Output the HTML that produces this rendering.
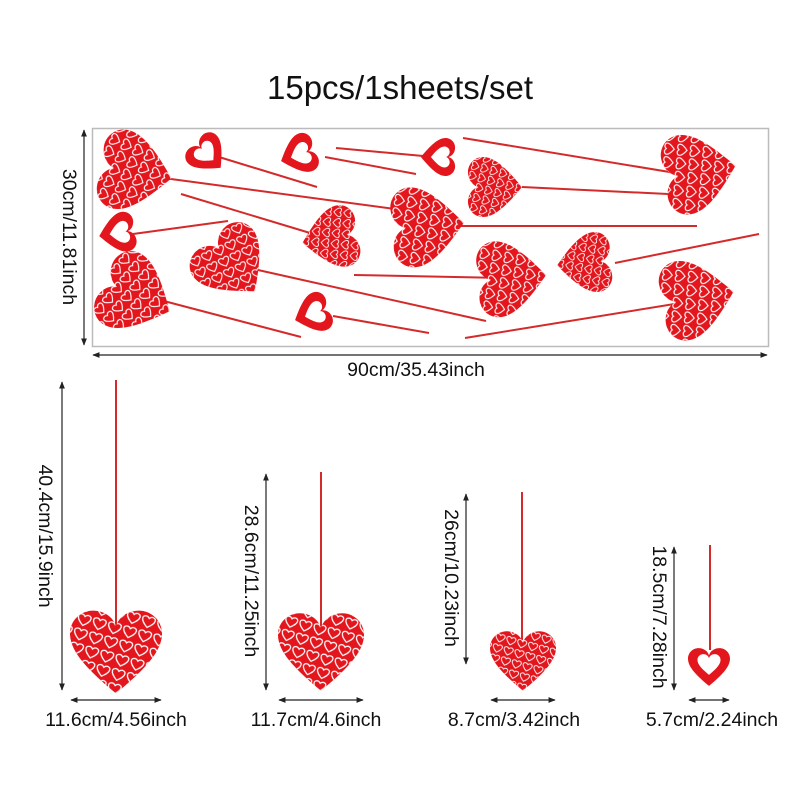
<!DOCTYPE html>
<html><head><meta charset="utf-8"><style>
html,body{margin:0;padding:0;background:#fff;}
svg{display:block;font-family:"Liberation Sans",sans-serif;}
</style></head><body>
<svg width="800" height="800" viewBox="0 0 800 800" xmlns="http://www.w3.org/2000/svg">
<defs>
<path id="hp" d="M0 0.9 C-0.6 0.4 -1 0 -1 -0.4 C-1 -0.7 -0.75 -0.9 -0.5 -0.9 C-0.25 -0.9 -0.05 -0.75 0 -0.55 C0.05 -0.75 0.25 -0.9 0.5 -0.9 C0.75 -0.9 1 -0.7 1 -0.4 C1 0 0.6 0.4 0 0.9Z"/>
<pattern id="pt" patternUnits="userSpaceOnUse" width="0.34" height="0.32" patternTransform="rotate(15)">
<path d="M0.17 0.27 C0.08 0.2 0.03 0.15 0.03 0.09 C0.03 0.03 0.12 0.0 0.17 0.07 C0.22 0.0 0.31 0.03 0.31 0.09 C0.31 0.15 0.26 0.2 0.17 0.27Z" fill="none" stroke="#fff" stroke-width="0.028"/>
</pattern>
<g id="ch"><use href="#hp" fill="#e3161d"/><use href="#hp" fill="url(#pt)"/></g>
<g id="oh"><use href="#hp" fill="#e3161d"/><use href="#hp" fill="#fff" transform="translate(0,-0.12) scale(0.55)"/></g>
<marker id="ar" viewBox="0 0 10 10" refX="9" refY="5" markerWidth="6" markerHeight="6" orient="auto-start-reverse"><path d="M0 1 L10 5 L0 9z" fill="#222"/></marker>
</defs>

<text x="400" y="99" font-size="33" text-anchor="middle" fill="#111">15pcs/1sheets/set</text>

<rect x="92.5" y="128.5" width="676" height="218" fill="#fff" stroke="#bbb" stroke-width="1.5"/>

<g stroke="#d42a2a" stroke-width="2">
<line x1="156" y1="177" x2="395" y2="209"/>
<line x1="219" y1="157" x2="317" y2="187"/>
<line x1="336" y1="148" x2="434" y2="157"/>
<line x1="325" y1="157" x2="416" y2="174"/>
<line x1="463" y1="138" x2="700" y2="177"/>
<line x1="522" y1="187" x2="668" y2="194"/>
<line x1="456" y1="226" x2="697" y2="226"/>
<line x1="133" y1="234" x2="228" y2="221"/>
<line x1="181" y1="194" x2="320" y2="236"/>
<line x1="258" y1="270" x2="486" y2="321"/>
<line x1="354" y1="275" x2="504" y2="278"/>
<line x1="615" y1="263" x2="759" y2="234"/>
<line x1="160" y1="300" x2="301" y2="337"/>
<line x1="333" y1="316" x2="429" y2="333"/>
<line x1="465" y1="338" x2="699" y2="300"/>
</g>

<use href="#ch" transform="translate(136,172) rotate(-80) scale(40)"/>
<use href="#ch" transform="translate(137,296) rotate(-65) scale(40)"/>
<use href="#ch" transform="translate(233,265) rotate(-40) scale(38)"/>
<use href="#ch" transform="translate(330,238) rotate(80) scale(31)"/>
<use href="#ch" transform="translate(428,226) rotate(-95) scale(40)"/>
<use href="#ch" transform="translate(495,187) rotate(-90) scale(30)"/>
<use href="#ch" transform="translate(512,278) rotate(-95) scale(38)"/>
<use href="#ch" transform="translate(584,263) rotate(85) scale(30)"/>
<use href="#ch" transform="translate(700,172) rotate(-100) scale(40)"/>
<use href="#ch" transform="translate(698,298) rotate(-100) scale(40)"/>

<use href="#oh" transform="translate(208,155) rotate(-45) scale(20)"/>
<use href="#oh" transform="translate(298,155) rotate(70) scale(20)"/>
<use href="#oh" transform="translate(438,157) rotate(90) scale(19)"/>
<use href="#oh" transform="translate(117,233) rotate(80) scale(20)"/>
<use href="#oh" transform="translate(312,314) rotate(70) scale(20)"/>

<g stroke="#222" stroke-width="1.2" marker-start="url(#ar)" marker-end="url(#ar)">
<line x1="84" y1="130" x2="84" y2="345"/>
<line x1="93" y1="355" x2="767" y2="355"/>
<line x1="62" y1="382" x2="62" y2="690"/>
<line x1="71" y1="700" x2="161" y2="700"/>
<line x1="266" y1="474" x2="266" y2="690"/>
<line x1="279" y1="700" x2="363" y2="700"/>
<line x1="466" y1="494" x2="466" y2="664"/>
<line x1="491" y1="700" x2="555" y2="700"/>
<line x1="674" y1="547" x2="674" y2="690"/>
<line x1="689" y1="700" x2="729" y2="700"/>
</g>

<g font-size="19.5" fill="#111">
<text x="416" y="376" text-anchor="middle">90cm/35.43inch</text>
<text transform="translate(63,237) rotate(90)" text-anchor="middle">30cm/11.81inch</text>
<text transform="translate(39,536) rotate(90)" text-anchor="middle">40.4cm/15.9inch</text>
<text transform="translate(245,581) rotate(90)" text-anchor="middle">28.6cm/11.25inch</text>
<text transform="translate(445,578) rotate(90)" text-anchor="middle">26cm/10.23inch</text>
<text transform="translate(653,617) rotate(90)" text-anchor="middle">18.5cm/7.28inch</text>
<text x="116" y="726" text-anchor="middle">11.6cm/4.56inch</text>
<text x="316" y="726" text-anchor="middle">11.7cm/4.6inch</text>
<text x="514" y="726" text-anchor="middle">8.7cm/3.42inch</text>
<text x="712" y="726" text-anchor="middle">5.7cm/2.24inch</text>
</g>

<g stroke="#d42a2a" stroke-width="2">
<line x1="116" y1="380" x2="116" y2="630"/>
<line x1="321" y1="472" x2="321" y2="630"/>
<line x1="522" y1="492" x2="522" y2="640"/>
<line x1="710" y1="545" x2="710" y2="650"/>
</g>
<use href="#ch" transform="translate(116,652) scale(46)"/>
<use href="#ch" transform="translate(321,652) scale(43)"/>
<use href="#ch" transform="translate(523,661) scale(33)"/>
<use href="#oh" transform="translate(709,667) scale(21)"/>
</svg>
</body></html>
